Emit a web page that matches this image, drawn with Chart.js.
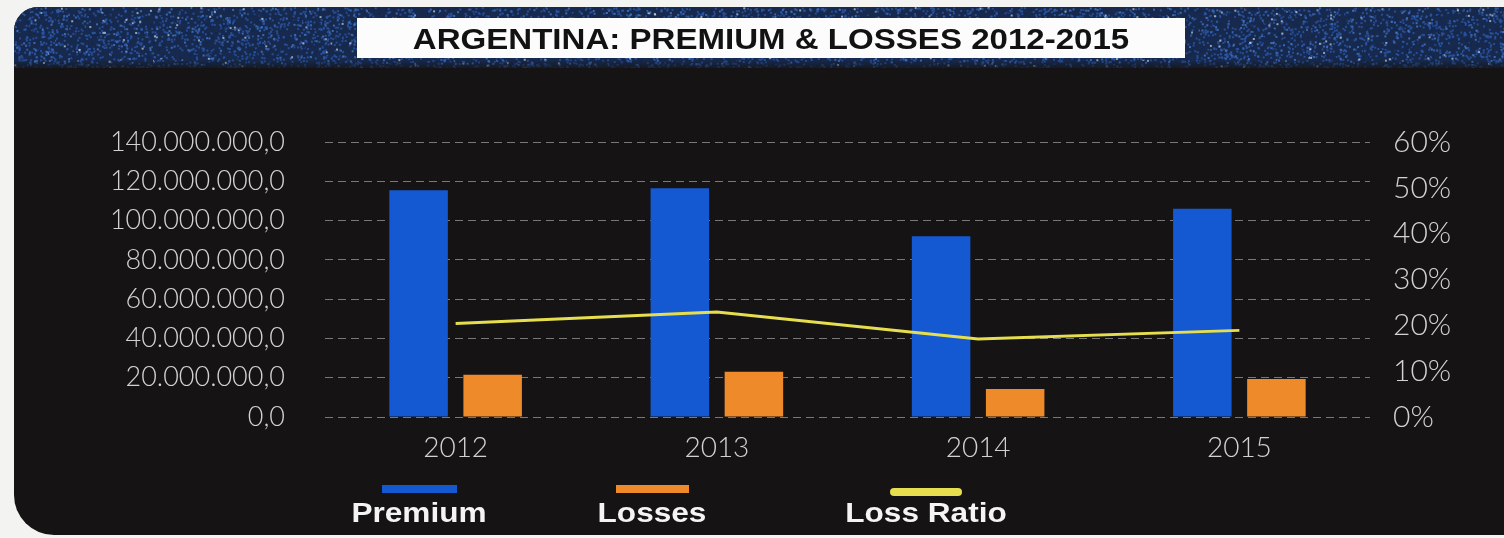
<!DOCTYPE html>
<html>
<head>
<meta charset="utf-8">
<title>Argentina: Premium & Losses 2012-2015</title>
<script src="https://cdn.jsdelivr.net/npm/chart.js@4.4.1/dist/chart.umd.min.js"></script>
<style>
  html, body { margin: 0; padding: 0; background: #f3f3f1; }
  #page { position: relative; width: 1504px; height: 538px; overflow: hidden; }
  #panel {
    position: absolute; left: 14px; top: 7px; width: 1520px; height: 528px;
    background: #151314;
    border-radius: 24px 0 0 40px;
    overflow: hidden;
  }
  #band { position: absolute; left: 0; top: 0; width: 1520px; height: 61px; }
  #title-box {
    position: absolute; left: 357px; top: 18px; width: 828px; height: 40px;
    background: #fcfcfc;
  }
  #title-box span {
    position: absolute; left: 0; right: 0; top: 5px; text-align: center;
    font-family: "Liberation Sans", Arial, sans-serif; font-weight: bold; font-size: 29px;
    color: #121212; transform: scaleX(1.14); transform-origin: 50% 50%;
  }
  #chart-wrap { position: absolute; left: 0; top: 0; width: 1504px; height: 538px; }
  .legend-item { position: absolute; top: 484px; text-align: center; }
  .legend-item .swatch { position: absolute; height: 8px; }
  .legend-item .label {
    position: absolute; top: 14px; white-space: nowrap;
    font-family: "Liberation Sans", Arial, sans-serif; font-weight: bold; font-size: 27px;
    color: #f4f4f4; transform: translateX(-50%) scaleX(1.17);
  }
</style>
</head>
<body>
<div id="page">
  <div id="panel"><canvas id="band" width="1520" height="61"></canvas></div>
  <div id="title-box"><span>ARGENTINA: PREMIUM &amp; LOSSES 2012-2015</span></div>
  <div id="chart-wrap"><canvas id="chart"></canvas></div>
  <div id="legend"></div>
</div>
<script>
const years = ['2012', '2013', '2014', '2015'];
const premium = [115400000, 116500000, 92000000, 106000000];
const losses = [21500000, 23000000, 14200000, 19300000];
const lossRatio = [20.4, 22.9, 17.0, 18.9];

const amountTicks = [0, 20000000, 40000000, 60000000, 80000000, 100000000, 120000000, 140000000];
const ratioTicks = [0, 10, 20, 30, 40, 50, 60];

const seriesNames = ['Premium', 'Losses', 'Loss Ratio'];
const seriesColors = ['#1459d2', '#ef8a2b', '#e6de4e'];

// speckled navy strip across the top of the panel
function paintBand() {
    const c = document.getElementById('band');
    const g = c.getContext('2d');
    g.fillStyle = '#17294c';
    g.fillRect(0, 0, c.width, c.height);
    let s = 7;
    const next = () => { s = (s * 1103515245 + 12345) & 0x7fffffff; return s / 0x7fffffff; };
    for (let i = 0; i < 9000; i++) {
        const x = next() * c.width, y = next() * c.height, r = next();
        if (r < 0.55) g.fillStyle = 'rgba(42,86,168,0.8)';
        else if (r < 0.85) g.fillStyle = 'rgba(20,40,80,0.9)';
        else if (r < 0.97) g.fillStyle = 'rgba(70,120,200,0.8)';
        else g.fillStyle = 'rgba(200,215,235,0.7)';
        g.fillRect(x, y, 2, 2);
    }
    const fade = g.createLinearGradient(0, c.height - 8, 0, c.height);
    fade.addColorStop(0, 'rgba(21,19,20,0)');
    fade.addColorStop(1, 'rgba(21,19,20,0.7)');
    g.fillStyle = fade;
    g.fillRect(0, c.height - 8, c.width, 8);
}
paintBand();

function formatAmount(v) {
    const whole = Math.round(v).toString().replace(/\B(?=(\d{3})+(?!\d))/g, '.');
    return whole + ',0';
}

function renderLegend() {
    const centers = [419, 652, 926];
    const widths = [75, 73, 72];
    const legend = document.getElementById('legend');
    seriesNames.forEach((name, i) => {
        const item = document.createElement('div');
        item.className = 'legend-item';
        item.style.left = centers[i] + 'px';
        item.innerHTML = `
            <div class="swatch" style="left:${-widths[i] / 2}px;width:${widths[i]}px;background:${seriesColors[i]};
                 ${i === 2 ? 'border-radius:4px;top:4px;' : 'top:1px;'}"></div>
            <div class="label">${name}</div>
        `;
        legend.appendChild(item);
    });
}
renderLegend();

const gridColor = 'rgba(215,222,228,0.5)';
const tickColor = '#d2d2d2';

const ctx = document.getElementById('chart').getContext('2d');
const chart = new Chart(ctx, {
    type: 'bar',
    data: {
        labels: years,
        datasets: [
            {
                type: 'line',
                label: seriesNames[2],
                data: lossRatio,
                yAxisID: 'y1',
                borderColor: seriesColors[2],
                borderWidth: 3,
                pointRadius: 0,
                tension: 0,
                order: 0
            },
            {
                label: seriesNames[0],
                data: premium,
                yAxisID: 'y',
                backgroundColor: seriesColors[0],
                categoryPercentage: 0.567,
                barPercentage: 0.79,
                order: 1
            },
            {
                label: seriesNames[1],
                data: losses,
                yAxisID: 'y',
                backgroundColor: seriesColors[1],
                categoryPercentage: 0.567,
                barPercentage: 0.79,
                order: 1
            }
        ]
    },
    options: {
        responsive: true,
        maintainAspectRatio: false,
        animation: false,
        layout: { padding: { top: 142, left: 0, right: 0, bottom: 0 } },
        plugins: {
            legend: { display: false },
            tooltip: { enabled: false }
        },
        scales: {
            x: {
                grid: { display: false },
                border: { display: false },
                ticks: {
                    color: tickColor,
                    padding: 6,
                    font: { family: 'Lato', size: 28, weight: '300' }
                },
                afterFit: (scale) => { scale.height = 121; }
            },
            y: {
                position: 'left',
                min: 0,
                max: 140000000,
                afterBuildTicks: (scale) => { scale.ticks = amountTicks.map(v => ({ value: v })); },
                grid: {
                    color: gridColor,
                    lineWidth: 1,
                    drawTicks: false
                },
                border: { display: false, dash: [8, 5] },
                ticks: {
                    color: tickColor,
                    padding: 40,
                    font: { family: 'Lato', size: 27, weight: '300' },
                    callback: (v) => formatAmount(v)
                },
                afterFit: (scale) => { scale.width = 325; }
            },
            y1: {
                position: 'right',
                min: 0,
                max: 60,
                afterBuildTicks: (scale) => { scale.ticks = ratioTicks.map(v => ({ value: v })); },
                grid: { display: false, drawTicks: false },
                border: { display: false },
                ticks: {
                    color: tickColor,
                    padding: 23,
                    font: { family: 'Lato', size: 30, weight: '300' },
                    callback: (v) => v + '%'
                },
                afterFit: (scale) => { scale.width = 134; }
            }
        }
    }
});
</script>
</body>
</html>
